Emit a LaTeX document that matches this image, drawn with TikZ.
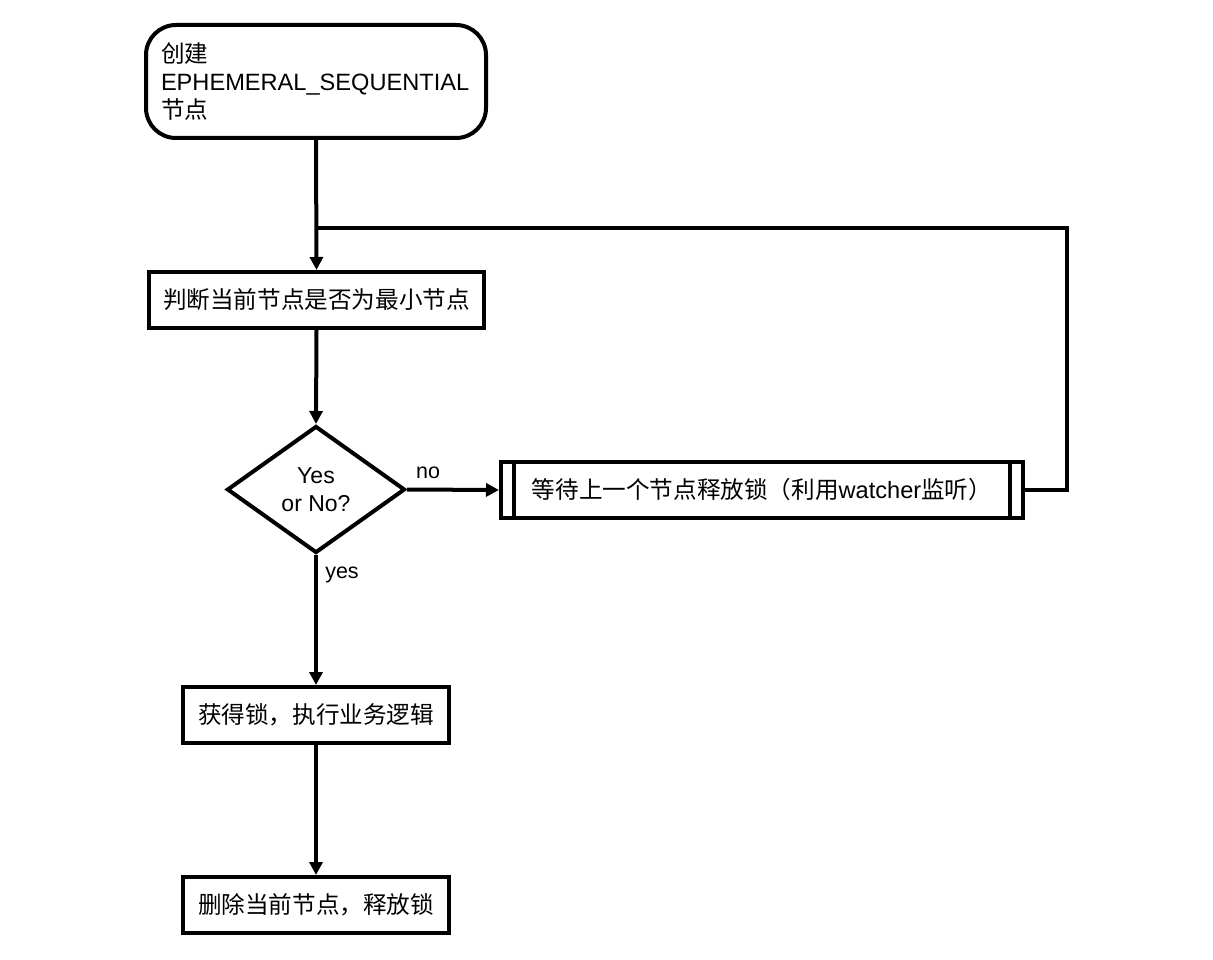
\documentclass[tikz,border=0pt]{standalone}
\usepackage{fontspec}
\setmainfont{Liberation Sans}
\newfontfamily\cjk{Noto Sans CJK SC}
\usetikzlibrary{shapes.geometric,arrows.meta}

\tikzset{
  flow/.style={line width=4pt, draw=black},
  stepbox/.style={flow, rectangle, minimum height=56pt, inner sep=0pt, font=\fontsize{23.6}{28}\selectfont},
  arr/.style={line width=4pt, -{Triangle[length=13pt,width=13pt]}},
  lbl/.style={inner sep=0pt, font=\fontsize{21.5}{25}\selectfont}
}

\begin{document}
\begin{tikzpicture}[x=1pt,y=1pt,yscale=-1,xscale=1]
  \useasboundingbox (0,0) rectangle (1213,960);

  % start
  \node [stepbox, rounded corners=30pt, minimum width=338pt, minimum height=113pt,
         text width=310pt, inner xsep=15pt, align=left] (start) at (316,81.5)
        {{\cjk 创建}\\EPHEMERAL\_SEQUENTIAL\\{\cjk 节点}};
  % check
  \node [stepbox, minimum width=335pt] (check) at (316.5,300) {\cjk 判断当前节点是否为最小节点};
  % decision
  \node [flow, diamond, aspect=1.4, minimum width=178pt, minimum height=127pt, inner sep=0pt,
         align=center, font=\fontsize{23}{28}\selectfont] (ask) at (316,489.5) {Yes\\or No?};
  % wait (predefined process)
  \node [stepbox, minimum width=522pt] (wait) at (762,490)
        {{\cjk 等待上一个节点释放锁（利用}watcher{\cjk 监听）}};
  \draw [flow] ([xshift=15pt]wait.north west) -- ([xshift=15pt]wait.south west);
  \draw [flow] ([xshift=-15pt]wait.north east) -- ([xshift=-15pt]wait.south east);
  % lock
  \node [stepbox, minimum width=266pt] (lock) at (316,715) {\cjk 获得锁，执行业务逻辑};
  % release
  \node [stepbox, minimum width=266pt] (release) at (316,905) {\cjk 删除当前节点，释放锁};

  \coordinate (join) at (316,228);
  \coordinate (loopR) at (1067,228);

  % connectors
  \draw [arr] (start.south) -- (check.north);
  \draw [arr] (check.south) -- (ask.north);
  \draw [arr] (ask.east) -- (wait.west);
  \draw [arr] (ask.south) -- (lock.north);
  \draw [arr] (lock.south) -- (release.north);
  \draw [flow, line join=miter] (wait.east) -| (loopR) -- (join);

  % labels
  \node [lbl] (nolbl) at (428,473) {no};
  \node [lbl] (yeslbl) at (342,575) {yes};
\end{tikzpicture}
\end{document}
